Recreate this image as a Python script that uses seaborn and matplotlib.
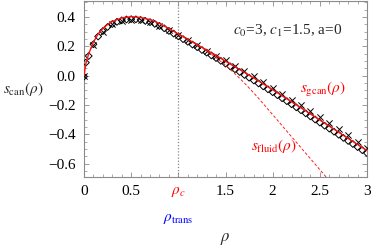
import numpy as np
import pandas as pd
import matplotlib
matplotlib.use("Agg")
import matplotlib.pyplot as plt
import matplotlib.transforms as mtransforms
from matplotlib.ticker import MultipleLocator, FixedLocator
import seaborn as sns

# ---- data ----
rho_gcan = [0.0, 0.02, 0.05, 0.1, 0.15, 0.2, 0.25, 0.3, 0.4, 0.5, 0.6, 0.7, 0.8, 0.9, 1.0,
            1.2, 1.4, 1.6, 1.8, 2.0, 2.2, 2.4, 2.6, 2.8, 3.0]
s_gcan = [0.0, 0.085, 0.150, 0.230, 0.285, 0.322, 0.350, 0.370, 0.395, 0.403, 0.398, 0.383,
          0.357, 0.322, 0.285, 0.212, 0.138, 0.062, -0.015, -0.095, -0.177, -0.260, -0.343,
          -0.427, -0.510]

rho_fluid = [1.0, 1.1, 1.2, 1.3, 1.4, 1.5, 1.6, 1.7, 1.8, 1.9, 2.0, 2.1, 2.2, 2.3, 2.4, 2.5, 2.6]
s_fluid = [0.285, 0.249, 0.211, 0.170, 0.124, 0.072, 0.014, -0.049, -0.117, -0.190, -0.265,
           -0.340, -0.415, -0.490, -0.565, -0.640, -0.715]

rho_diam = [0.0, 0.02, 0.05, 0.1, 0.15, 0.2, 0.25, 0.3, 0.35, 0.4, 0.45, 0.5, 0.55, 0.6, 0.65,
            0.7, 0.75, 0.8, 0.85, 0.9, 0.95, 1.0, 1.05, 1.1, 1.15, 1.2, 1.25, 1.3, 1.35, 1.4,
            1.45, 1.5, 1.55, 1.6, 1.65, 1.7, 1.75, 1.8, 1.85, 1.9, 1.95, 2.0, 2.05, 2.1, 2.15,
            2.2, 2.25, 2.3, 2.35, 2.4, 2.45, 2.5, 2.55, 2.6, 2.65, 2.7, 2.75, 2.8, 2.85, 2.9,
            2.95, 3.0]
s_diam = [-0.005, 0.090, 0.135, 0.215, 0.268, 0.305, 0.333, 0.353, 0.368, 0.378, 0.384, 0.386,
          0.385, 0.381, 0.374, 0.366, 0.354, 0.340, 0.324, 0.306, 0.288, 0.269, 0.250, 0.232,
          0.213, 0.195, 0.176, 0.158, 0.139, 0.121, 0.102, 0.083, 0.064, 0.045, 0.026, 0.006,
          -0.013, -0.032, -0.052, -0.072, -0.092, -0.112, -0.132, -0.153, -0.173, -0.194,
          -0.215, -0.235, -0.256, -0.277, -0.298, -0.319, -0.340, -0.360, -0.381, -0.402,
          -0.423, -0.444, -0.465, -0.486, -0.507, -0.527]

rho_cross = [0.0, 0.1, 0.2, 0.3, 0.4, 0.5, 0.6, 0.7, 0.8, 0.9, 1.0, 1.1, 1.2, 1.3, 1.4, 1.5,
             1.6, 1.7, 1.8, 1.9, 2.0, 2.1, 2.2, 2.3, 2.4, 2.5, 2.6, 2.7, 2.8, 2.9, 3.0]
s_cross = [0.0, 0.210, 0.300, 0.350, 0.375, 0.383, 0.378, 0.364, 0.342, 0.310, 0.275, 0.243,
           0.208, 0.172, 0.138, 0.105, 0.070, 0.033, -0.004, -0.043, -0.082, -0.122, -0.162,
           -0.202, -0.243, -0.284, -0.325, -0.366, -0.407, -0.448, -0.490]

rho_c = 1.0
x_ticks = [0, 0.5, 1.0, 1.5, 2, 2.5, 3]
x_ticklabels = ["0", "0.5", r"$\rho_c$", "1.5", "2", "2.5", "3"]
y_ticks = [-0.6, -0.4, -0.2, 0.0, 0.2, 0.4]
y_ticklabels = ["\u22120.6", "\u22120.4", "\u22120.2", "0.0", "0.2", "0.4"]

# ---- style ----
sns.set_theme(style="ticks")
plt.rcParams["font.family"] = ["Liberation Serif", "DejaVu Serif"]
plt.rcParams["mathtext.fontset"] = "stix"
plt.rcParams["axes.unicode_minus"] = True

fig = plt.figure(figsize=(3.72, 2.47), dpi=100)
ax = fig.add_axes([84 / 372, 1 - 177 / 247, (367 - 84) / 372, 176 / 247])

frame_col = "#8a8a8a"

ax.axvline(rho_c, color="#888888", lw=0.9, ls=(0, (1, 1.5)), zorder=1)

df_d = pd.DataFrame({"rho": rho_diam, "s": s_diam})
df_x = pd.DataFrame({"rho": rho_cross, "s": s_cross})
sns.scatterplot(data=df_d, x="rho", y="s", marker="D", s=12, facecolor="none",
                edgecolor="black", linewidth=0.7, ax=ax, zorder=3)
sns.scatterplot(data=df_x, x="rho", y="s", marker="x", s=20, color="black",
                linewidth=0.7, ax=ax, zorder=3)

df_g = pd.DataFrame({"rho": rho_gcan, "s": s_gcan})
df_f = pd.DataFrame({"rho": rho_fluid, "s": s_fluid})
sns.lineplot(data=df_f, x="rho", y="s", color="#ff2020", lw=0.7, ls=(0, (3, 2)),
             ax=ax, zorder=4)
sns.lineplot(data=df_g, x="rho", y="s", color="#ff1010", lw=1.0, ax=ax, zorder=5)

ax.set_xlim(0, 3.0)
ax.set_ylim(-0.69, 0.51)
ax.set_xlabel("")
ax.set_ylabel("")

ax.xaxis.set_major_locator(FixedLocator(x_ticks))
ax.set_xticklabels(x_ticklabels)
ax.xaxis.set_minor_locator(MultipleLocator(0.1))
ax.yaxis.set_major_locator(FixedLocator(y_ticks))
ax.set_yticklabels(y_ticklabels)
ax.yaxis.set_minor_locator(MultipleLocator(0.05))

ax.tick_params(which="both", direction="in", top=True, right=True, color=frame_col,
               labelsize=11, labelcolor="black", pad=6)
ax.tick_params(which="major", length=3.5, width=0.6)
ax.tick_params(which="minor", length=2, width=0.5)
for lab in ax.get_xticklabels():
    if "rho" in lab.get_text():
        lab.set_color("red")
for sp in ax.spines.values():
    sp.set_color(frame_col)
    sp.set_linewidth(0.8)

# texts
ax.text(0.72, 0.83, r"$c_0$=3, $c_1$=1.5, a=0", transform=ax.transAxes,
        ha="center", va="center", fontsize=11)
ax.text(2.53, -0.09, r"$s_{\rm gcan}(\rho)$", color="red", fontsize=11,
        ha="center", va="center")
ax.text(2.01, -0.48, r"$s_{\rm fluid}(\rho)$", color="red", fontsize=11,
        ha="center", va="center")

trans = mtransforms.blended_transform_factory(ax.transData, fig.transFigure)
ax.text(rho_c, 1 - 219 / 247, r"$\rho_{\rm trans}$", color="blue", fontsize=11,
        ha="center", va="center", transform=trans)

fig.text(225 / 372, 1 - 239 / 247, r"$\rho$", fontsize=12, ha="center", va="center")
fig.text(23 / 372, 1 - 89 / 247, r"$s_{\rm can}(\rho)$", fontsize=11, ha="center",
         va="center")

fig.savefig("out.png", dpi=100)
